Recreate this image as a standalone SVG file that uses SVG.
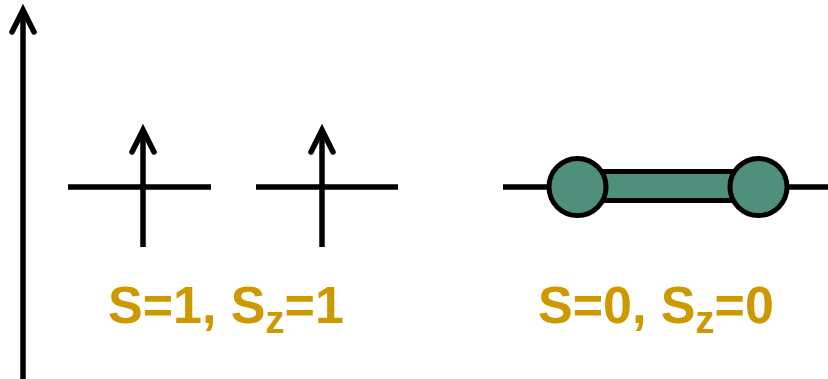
<svg xmlns="http://www.w3.org/2000/svg" width="828" height="379" viewBox="0 0 828 379">
<style>
.ln{stroke:#000;stroke-width:5.5;fill:none}
.hd{stroke:#000;stroke-width:5.5;fill:none;stroke-linecap:round;stroke-linejoin:miter}
.lbl{font-family:"Liberation Sans",Arial,sans-serif;font-weight:bold;font-size:52px;fill:#CC9900}
.sub{font-size:38px}
.gr{fill:#4F8F7B;stroke:#000;stroke-width:5}
</style>
<rect width="828" height="379" fill="#fff"/>
<g id="axis">
<line class="ln" x1="23" y1="379" x2="23" y2="10"/>
<polyline class="hd" points="12,32 23,10 34,32"/>
</g>
<g id="spin1">
<line class="ln" x1="68" y1="187" x2="211" y2="187"/>
<line class="ln" x1="143" y1="247" x2="143" y2="130"/>
<polyline class="hd" points="132,152 143,130 154,152"/>
</g>
<g id="spin2">
<line class="ln" x1="256" y1="187" x2="398" y2="187"/>
<line class="ln" x1="322" y1="247" x2="322" y2="130"/>
<polyline class="hd" points="311,152 322,130 333,152"/>
</g>
<g id="singlet">
<line class="ln" x1="503" y1="187" x2="828" y2="187"/>
<rect class="gr" x="577" y="171.5" width="182" height="29"/>
<circle class="gr" cx="577.5" cy="187" r="28.5"/>
<circle class="gr" cx="758.5" cy="187" r="28.5"/>
</g>
<g id="labels">
<text class="lbl" x="108" y="323">S=1, S<tspan class="sub" dy="10">z</tspan><tspan dy="-10">=1</tspan></text>
<text class="lbl" x="538" y="323">S=0, S<tspan class="sub" dy="10">z</tspan><tspan dy="-10">=0</tspan></text>
</g>
</svg>
